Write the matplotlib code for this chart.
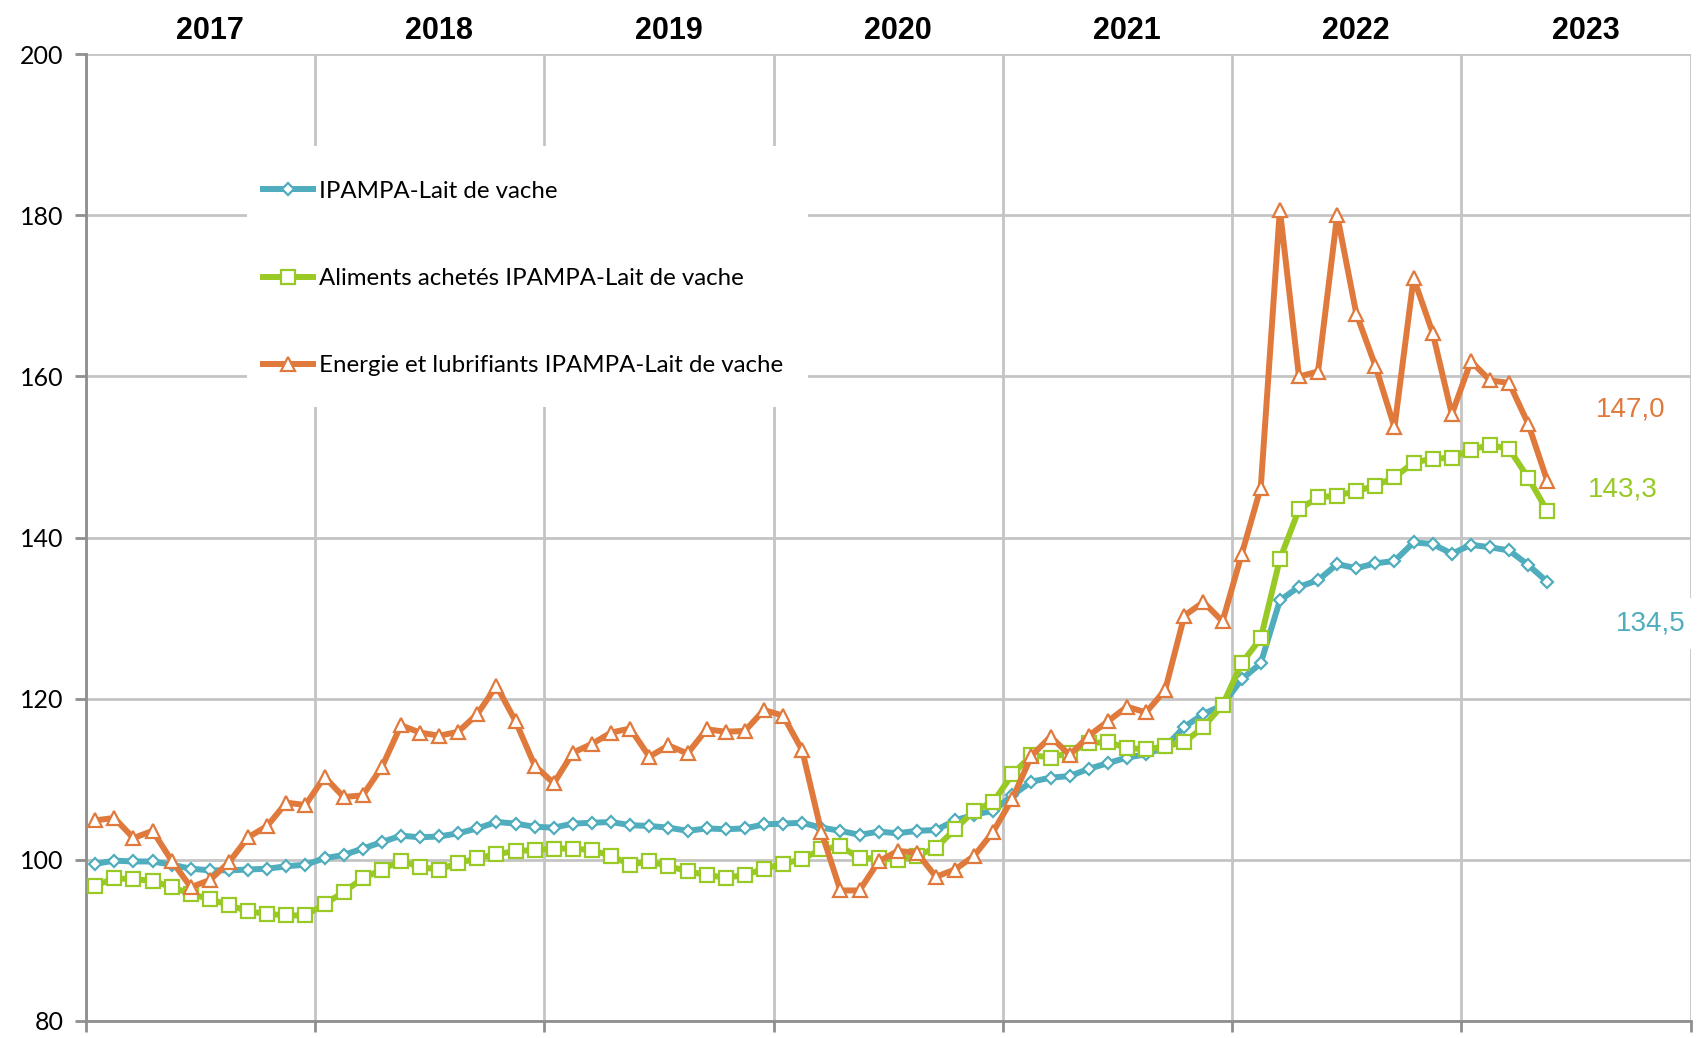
import numpy as np
import matplotlib.pyplot as plt
from matplotlib.patches import Rectangle

# monthly index values, Jan 2017 -> May 2023
years = ["2017", "2018", "2019", "2020", "2021", "2022", "2023"]

ipampa = [
    99.5, 99.9, 99.8, 99.8, 99.4, 98.9, 98.7, 98.7, 98.8, 98.9, 99.2, 99.4,
    100.2, 100.6, 101.4, 102.2, 103.0, 102.8, 102.9, 103.3, 103.9, 104.7, 104.5, 104.1,
    104.0, 104.5, 104.6, 104.7, 104.3, 104.2, 104.0, 103.6, 103.9, 103.8, 103.9, 104.4,
    104.5, 104.6, 104.0, 103.6, 103.1, 103.5, 103.3, 103.6, 103.7, 104.9, 105.6, 106.1,
    108.0, 109.7, 110.2, 110.4, 111.3, 112.0, 112.7, 113.1, 114.0, 116.5, 118.1, 119.2,
    122.4, 124.4, 132.2, 133.9, 134.7, 136.7, 136.2, 136.8, 137.1, 139.4, 139.2, 138.0,
    139.1, 138.8, 138.4, 136.6, 134.5,
]
aliments = [
    96.8, 97.7, 97.6, 97.4, 96.6, 95.8, 95.1, 94.4, 93.6, 93.3, 93.1, 93.1,
    94.5, 96.0, 97.7, 98.8, 99.9, 99.1, 98.8, 99.6, 100.2, 100.7, 101.1, 101.2,
    101.4, 101.4, 101.2, 100.5, 99.4, 99.8, 99.2, 98.6, 98.1, 97.8, 98.1, 98.9,
    99.5, 100.1, 101.3, 101.7, 100.2, 100.2, 100.0, 100.5, 101.5, 103.8, 106.1, 107.2,
    110.6, 113.0, 112.7, 113.3, 114.5, 114.6, 113.9, 113.7, 114.1, 114.6, 116.5, 119.2,
    124.4, 127.5, 137.3, 143.5, 145.0, 145.2, 145.8, 146.4, 147.5, 149.3, 149.8, 149.9,
    150.9, 151.5, 151.0, 147.4, 143.3,
]
energie = [
    104.9, 105.2, 102.7, 103.6, 99.9, 96.6, 97.5, 99.7, 102.8, 104.2, 107.1, 106.8,
    110.3, 107.8, 108.0, 111.5, 116.7, 115.8, 115.4, 115.9, 118.1, 121.6, 117.2, 111.7,
    109.5, 113.3, 114.4, 115.8, 116.3, 112.8, 114.2, 113.2, 116.2, 115.9, 116.0, 118.6,
    117.9, 113.6, 103.5, 96.2, 96.2, 99.8, 101.1, 100.9, 97.9, 98.8, 100.5, 103.5,
    107.6, 112.9, 115.3, 113.0, 115.4, 117.2, 119.0, 118.3, 121.1, 130.3, 132.0, 129.6,
    137.9, 146.2, 180.7, 160.0, 160.6, 180.0, 167.8, 161.3, 153.7, 172.2, 165.4, 155.3,
    161.9, 159.5, 159.2, 154.1, 147.0,
]

labels = [
    "IPAMPA-Lait de vache",
    "Aliments achetés IPAMPA-Lait de vache",
    "Energie et lubrifiants IPAMPA-Lait de vache",
]

c_teal = "#4FADBE"
c_green = "#99C925"
c_orange = "#E07A3C"
c_grid = "#C4C4C4"
c_spine = "#8F8F8F"

x = np.arange(len(ipampa)) + 0.5

fig = plt.figure(figsize=(17, 10.38), dpi=100)
ax = fig.add_axes([0.0504, 0.0164, 0.9441, 0.9314])

ax.set_xlim(0, 12 * len(years))
ax.set_ylim(80, 200)
ax.set_xticks(np.arange(0, 12 * len(years) + 1, 12))
ax.set_xticklabels([])
ax.set_yticks(np.arange(80, 201, 20))
ax.grid(True, color=c_grid, linewidth=2)
ax.set_axisbelow(True)
for s in ["top", "right"]:
    ax.spines[s].set_visible(False)
for s in ["left", "bottom"]:
    ax.spines[s].set_color(c_spine)
    ax.spines[s].set_linewidth(2)
ax.tick_params(axis="both", color=c_spine, width=2, length=8)
ax.tick_params(axis="y", pad=8, labelsize=18)
for t in ax.get_yticklabels():
    t.set_family("Lato")

series = [
    (ipampa, c_teal, "D", 6.5),
    (aliments, c_green, "s", 9.5),
    (energie, c_orange, "^", 9.5),
]
handles = []
for (vals, col, mk, ms), lab in zip(series, labels):
    ln, = ax.plot(x, vals, color=col, linewidth=4.3, marker=mk, markersize=ms,
                  markerfacecolor="white", markeredgecolor=col, markeredgewidth=1.6,
                  label=lab, zorder=3, clip_on=False)
    handles.append(ln)

# year labels across the top
for i, yr in enumerate(years):
    ax.text(12 * i + 6.5, 1.024, yr, transform=ax.get_xaxis_transform(),
            ha="center", va="center", fontsize=22, fontweight="bold",
            family="Liberation Sans")

# legend on a white panel hiding the grid
ax.add_patch(Rectangle((0.1005, 0.635), 0.3495, 0.27, transform=ax.transAxes,
                       facecolor="white", edgecolor="none", zorder=1.5))
leg = ax.legend(handles=handles, loc="center left", bbox_to_anchor=(0.1105, 0.768),
                frameon=False, borderpad=0, borderaxespad=0, handlelength=2.1,
                handletextpad=0.25, labelspacing=2.75, numpoints=1,
                prop={"family": "Lato", "size": 17.3})

# last values
ends = [(energie[-1], c_orange, 1631, 410), (aliments[-1], c_green, 1623, 489),
        (ipampa[-1], c_teal, 1651, 623)]
for v, col, px, py in ends:
    ax.annotate(f"{v:.1f}".replace(".", ","), xy=(px / 1700, 1 - py / 1038),
                xycoords="figure fraction", ha="center", va="center",
                fontsize=20, color=col, family="Liberation Sans",
                bbox=dict(boxstyle="square,pad=0.45", facecolor="white", edgecolor="none"),
                annotation_clip=False)

fig.savefig("out.png", dpi=100)
